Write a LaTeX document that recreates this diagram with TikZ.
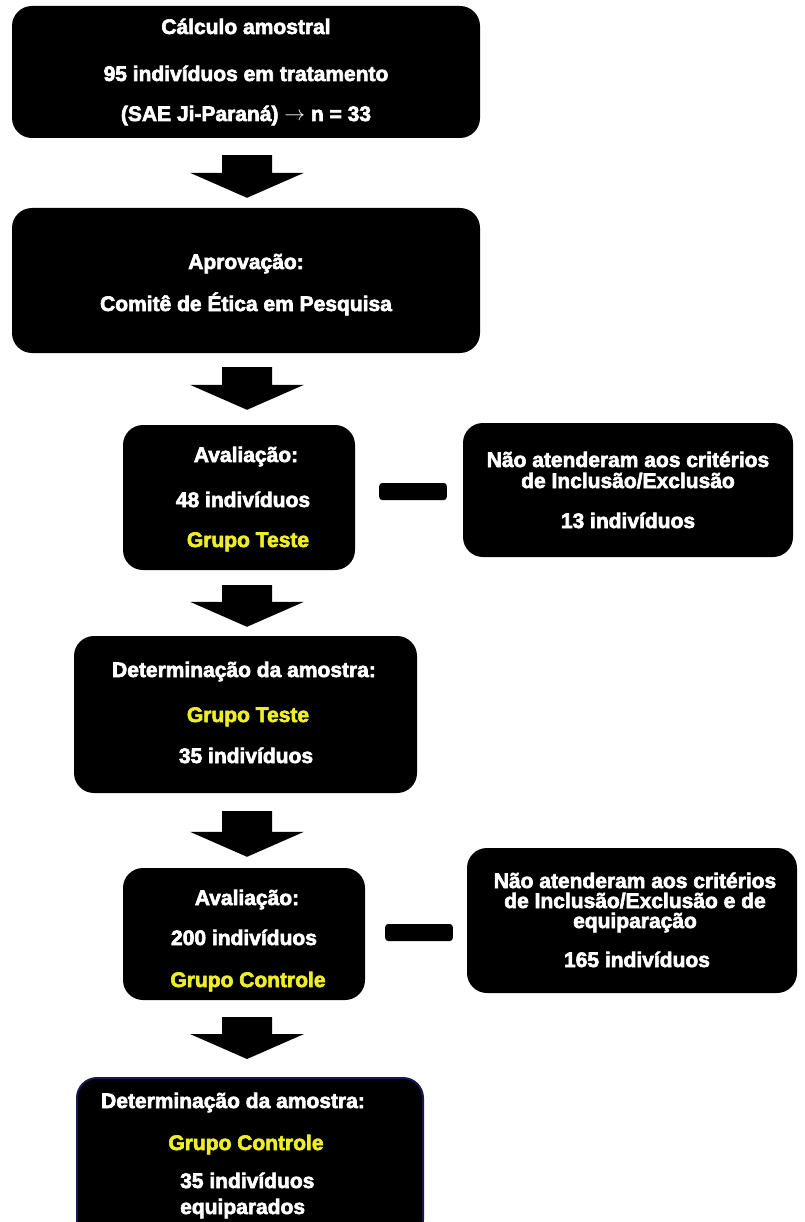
\documentclass[tikz,border=0pt]{standalone}
\usepackage{fontspec}
\setmainfont{Liberation Sans}[BoldFeatures={FakeBold=3}]
\usetikzlibrary{calc}
\definecolor{txtyellow}{RGB}{238,238,40}
\definecolor{navyline}{RGB}{22,22,82}
\tikzset{
  box/.style={fill=black, rounded corners=20pt, inner sep=0pt, minimum width=#1},
  txt/.style={text=white, inner sep=0pt, anchor=base, font=\fontsize{21}{25}\selectfont\bfseries},
  ytxt/.style={txt, text=txtyellow},
  arrowfill/.style={fill=black},
  barfill/.style={fill=black, rounded corners=3pt}
}
\newcommand\blockarrow[4]{%
  \fill[arrowfill] let \p1=($(ax |- #1.south)+(0,#3)$), \p2=($(ax |- #2.north)+(0,-#4)$) in
    (\x1-25pt,\y1) -- (\x1+25pt,\y1) -- (\x1+25pt,\y2+25pt) -- (\x1+57pt,\y2+25pt) --
    (\x1,\y2) -- (\x1-57pt,\y2+25pt) -- (\x1-25pt,\y2+25pt) -- cycle;}
\begin{document}
\begin{tikzpicture}[x=1pt,y=-1pt]
\useasboundingbox (0,0) rectangle (804,1222);
\clip (0,0) rectangle (804,1222);
\fill[white] (0,0) rectangle (804,1222);
\coordinate (ax) at (247,0);
% boxes
\node[box=468pt, minimum height=132pt] (b1) at (246,72) {};
\node[box=468pt, minimum height=145pt] (b2) at (246,280.5) {};
\node[box=232pt, minimum height=145pt] (b3) at (239,497.5) {};
\node[box=330pt, minimum height=134pt] (r1) at (628,490) {};
\node[box=343pt, minimum height=157pt] (b4) at (245.5,714.5) {};
\node[box=242pt, minimum height=132pt] (b5) at (244,934) {};
\node[box=330pt, minimum height=145pt] (r2) at (632,920.5) {};
\node[box=346pt, minimum height=162pt, draw=navyline, line width=2pt] (b6) at (250,1159) {};
% texts
\node[txt] (t1a) at (246,34) {Cálculo amostral};
\node[txt] (t1b) at (246,81) {95 indivíduos em tratamento};
\node[txt] (t1c) at (246,121) {(SAE Ji-Paraná) $\rightarrow$ n = 33};
\node[txt] (t2a) at (246,269) {Aprovação:};
\node[txt] (t2b) at (246,311) {Comitê de Ética em Pesquisa};
\node[txt] (t3a) at (246,462) {Avaliação:};
\node[txt] (t3b) at (243,507) {48 indivíduos};
\node[ytxt] (t3c) at (248,547) {Grupo Teste};
\node[txt] (r1a) at (628,467) {Não atenderam aos critérios};
\node[txt] (r1b) at (628,488) {de Inclusão/Exclusão};
\node[txt] (r1c) at (628,528) {13 indivíduos};
\node[txt] (t4a) at (244,677) {Determinação da amostra:};
\node[ytxt] (t4b) at (248,722) {Grupo Teste};
\node[txt] (t4c) at (246,763) {35 indivíduos};
\node[txt] (t5a) at (247,905) {Avaliação:};
\node[txt] (t5b) at (244,945) {200 indivíduos};
\node[ytxt] (t5c) at (248,987) {Grupo Controle};
\node[txt] (r2a) at (635,888) {Não atenderam aos critérios};
\node[txt] (r2b) at (635,908) {de Inclusão/Exclusão e de};
\node[txt] (r2c) at (635,928) {equiparação};
\node[txt] (r2d) at (637,967) {165 indivíduos};
\node[txt] (t6a) at (233,1108) {Determinação da amostra:};
\node[ytxt] (t6b) at (246,1150) {Grupo Controle};
\node[txt, anchor=base west] (t6c) at (180,1188) {35 indivíduos};
\node[txt, anchor=base west] (t6d) at (180,1214) {equiparados};
% block arrows
\blockarrow{b1}{b2}{17}{10}
\blockarrow{b2}{b3}{14}{15}
\blockarrow{b3}{b4}{15}{9}
\blockarrow{b4}{b5}{18}{11}
\blockarrow{b5}{b6}{17}{18}
% side bars
\fill[barfill] ($(b3.east |- r1.west)+(24,-7)$) rectangle ($(r1.west)+(-16,10)$);
\fill[barfill] ($(b5.east |- r2.west)+(20,3.5)$) rectangle ($(r2.west)+(-14,20.5)$);
\end{tikzpicture}
\end{document}
